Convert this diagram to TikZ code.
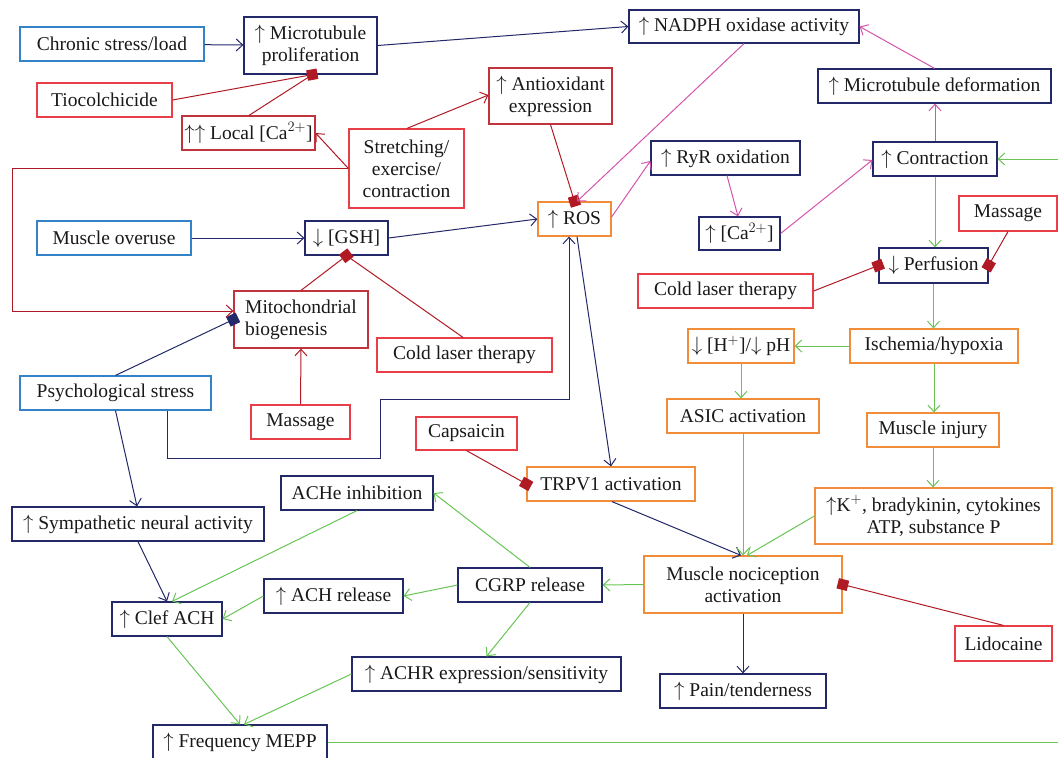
\documentclass[tikz,border=0pt]{standalone}
\usepackage{fontspec}
\setmainfont{Liberation Serif}
\usepackage{tikz}
\usetikzlibrary{arrows.meta,calc}

\definecolor{navy}{RGB}{34,40,104}
\definecolor{skyb}{RGB}{52,130,200}
\definecolor{redb}{RGB}{232,62,72}
\definecolor{dredb}{RGB}{192,52,62}
\definecolor{inhib}{RGB}{176,26,36}
\definecolor{orab}{RGB}{240,140,58}
\definecolor{grn}{RGB}{104,196,84}
\definecolor{mag}{RGB}{212,84,172}

\begin{document}
\begin{tikzpicture}[
  x=1pt,y=-1pt,
  box/.style={draw,line width=1.2pt,inner sep=0pt,minimum height=34pt,align=center,
    font=\fontsize{19.5}{22}\selectfont,text=black!90},
  src/.style={box,draw=skyb},
  trt/.style={box,draw=redb},
  drd/.style={box,draw=dredb},
  mid/.style={box,draw=navy},
  ora/.style={box,draw=orab},
  arr/.style={line width=1pt,-{Straight Barb[length=6.5pt,width=12pt]}},
  blk/.style={line width=1pt,-{Square[length=10.5pt]},shorten >=-5pt}
]
  \useasboundingbox (0,0) rectangle (1058,758);

  % left column
  \node[src,minimum width=184pt] (chronic) at (112,44)     {Chronic stress/load};
  \node[mid,minimum width=133pt,minimum height=57pt] (mtprol) at (310.5,45.5) {$\uparrow$ Microtubule\\proliferation};
  \node[trt,minimum width=135pt] (tioc)    at (104.5,100)  {Tiocolchicide};
  \node[drd,minimum width=133pt] (localca) at (248.5,133)  {$\uparrow\uparrow$ Local [Ca$^{2+}$]};
  \node[trt,minimum width=115pt,minimum height=79pt] (stretch) at (406.5,168.5) {Stretching/\\exercise/\\contraction};
  \node[src,minimum width=154pt] (overuse) at (114,238)    {Muscle overuse};
  \node[mid,minimum width=83pt]  (gsh)     at (346.5,238)  {$\downarrow$ [GSH]};
  \node[drd,minimum width=134pt,minimum height=57pt,align=left] (mito) at (301,319.5) {Mitochondrial\\biogenesis};
  \node[trt,minimum width=175pt] (coldM)   at (464.5,355)  {Cold laser therapy};
  \node[src,minimum width=191pt] (psych)   at (115.5,393)  {Psychological stress};
  \node[trt,minimum width=99pt]  (massM)   at (300.5,422)  {Massage};

  % middle / top
  \node[drd,minimum width=123pt,minimum height=56pt] (antiox) at (550.5,96) {$\uparrow$ Antioxidant\\expression};
  \node[ora,minimum width=73pt]  (ros)     at (574.5,219)  {$\uparrow$ ROS};
  \node[mid,minimum width=230pt,minimum height=33pt] (nadph) at (744,26.5) {$\uparrow$ NADPH oxidase activity};
  \node[mid,minimum width=233pt] (mtdef)   at (934.5,86)   {$\uparrow$ Microtubule deformation};
  \node[mid,minimum width=149pt] (ryr)     at (725.5,158)  {$\uparrow$ RyR oxidation};
  \node[mid,minimum width=81pt,minimum height=33pt] (ca) at (739.5,233.5) {$\uparrow$ [Ca$^{2+}$]};
  \node[mid,minimum width=124pt] (contr)   at (935,159)    {$\uparrow$ Contraction};
  \node[trt,minimum width=98pt,minimum height=35pt] (massR) at (1008,213.5) {Massage};
  \node[mid,minimum width=109pt,minimum height=35pt] (perf)  at (933.5,265.5) {$\downarrow$ Perfusion};
  \node[trt,minimum width=175pt] (coldR)   at (725.5,291)  {Cold laser therapy};

  % right column
  \node[ora,minimum width=106pt] (hph)     at (741,346)    {$\downarrow$ [H$^{+}$]/$\downarrow$ pH};
  \node[ora,minimum width=168pt] (isch)    at (934,346)    {Ischemia/hypoxia};
  \node[ora,minimum width=152pt] (asic)    at (743,416)    {ASIC activation};
  \node[ora,minimum width=132pt] (injury)  at (933,430)    {Muscle injury};
  \node[ora,minimum width=237pt,minimum height=56pt] (kplus) at (933.5,516) {$\uparrow$K$^{+}$, bradykinin, cytokines\\ATP, substance P};
  \node[ora,minimum width=198pt,minimum height=57pt] (noci)  at (743,584.5) {Muscle nociception\\activation};
  \node[trt,minimum width=97pt,minimum height=35pt]  (lido)  at (1003.5,643.5) {Lidocaine};
  \node[mid,minimum width=166pt] (pain)    at (743,691)    {$\uparrow$ Pain/tenderness};

  % bottom left
  \node[trt,minimum width=101pt,minimum height=33pt] (caps) at (466.5,433.5) {Capsaicin};
  \node[ora,minimum width=168pt] (trpv)    at (611,484)    {TRPV1 activation};
  \node[mid,minimum width=152pt] (ache)    at (357,493)    {ACHe inhibition};
  \node[mid,minimum width=252pt] (symp)    at (138,524)    {$\uparrow$ Sympathetic neural activity};
  \node[mid,minimum width=144pt] (cgrp)    at (530,585)    {CGRP release};
  \node[mid,minimum width=139pt] (achrel)  at (333.5,596)  {$\uparrow$ ACH release};
  \node[mid,minimum width=110pt] (clef)    at (167,619)    {$\uparrow$ Clef ACH};
  \node[mid,minimum width=269pt] (achr)    at (486.5,674)  {$\uparrow$ ACHR expression/sensitivity};
  \node[mid,minimum width=174pt] (mepp)    at (240,742)    {$\uparrow$ Frequency MEPP};

  \coordinate (bendA) at (12,168.5);
  \coordinate (psA)   at (380,458);
  \coordinate (psB)   at (569,399);
  \coordinate (edgeC) at (1058,159);
  \coordinate (edgeM) at (1058,742);

  % navy links
  \draw[arr,navy] (chronic) -- (mtprol);
  \draw[arr,navy] (mtprol.east) -- (nadph.west);
  \draw[arr,navy] (overuse.east) -- (gsh.west);
  \draw[arr,navy] (gsh.east) -- (ros.west);
  \draw[arr,navy] ([xshift=2.5pt]ros.south) -- (trpv.north);
  \draw[arr,navy] ([xshift=51.5pt]psych.south) |- (psA) |- (psB) -- ([xshift=-5.5pt]ros.south);
  \draw[blk,navy] (psych.north) -- (mito.west);
  \draw[arr,navy] (psych.south) -- ([xshift=-1pt]symp.north);
  \draw[arr,navy] (symp.south) -- (clef.north);
  \draw[arr,navy] ([xshift=1pt]trpv.south) -- ([xshift=-2pt]noci.north);
  \draw[arr,navy] (noci.south) -- (pain.north);

  % red links
  \draw[blk,inhib] (tioc.east) -- ([xshift=2pt]mtprol.south);
  \draw[line width=1pt,inhib] ([xshift=0.5pt]localca.north) -- ([xshift=2pt]mtprol.south);
  \draw[arr,inhib] (stretch.west) -- (localca.east);
  \draw[arr,inhib] (stretch.west) -- (bendA) |- ([yshift=8.5pt]mito.west);
  \draw[arr,inhib] ([xshift=0.5pt]stretch.north) -- ([yshift=1pt]antiox.west);
  \draw[blk,inhib] (antiox.south) -- (ros.north);
  \draw[arr,inhib] (massM.north) -- (mito.south);
  \draw[blk,inhib] (mito.north) -- (gsh.south);
  \draw[line width=1pt,inhib] ([xshift=-1.5pt]coldM.north) -- (gsh.south);
  \draw[blk,inhib] (massR.south) -- (perf.east);
  \draw[blk,inhib] (coldR.east) -- (perf.west);
  \draw[blk,inhib] (caps.south) -- (trpv.west);
  \draw[blk,inhib] (lido.north) -- (noci.east);

  % magenta links
  \draw[arr,mag] (nadph.south) -- ([xshift=2.5pt]ros.north);
  \draw[arr,mag] ([yshift=2pt]ros.east) -- ([yshift=-3pt]ryr.west);
  \draw[arr,mag] ([xshift=1.5pt]ryr.south) -- ([xshift=-1.5pt]ca.north);
  \draw[arr,mag] (ca.east) -- ([yshift=-1pt]contr.west);
  \draw[arr,mag] (contr.north) -- (contr.north |- mtdef.south);
  \draw[arr,mag] (mtdef.north) -- (nadph.east);

  % green links
  \draw[arr,grn] (edgeC) -- (contr.east);
  \draw[arr,grn] (contr.south) -- (contr.south |- perf.north);
  \draw[arr,grn] (perf.south) -- (perf.south |- isch.north);
  \draw[arr,grn] (isch.west) -- (hph.east);
  \draw[arr,grn] (hph.south) -- (hph.south |- asic.north);
  \draw[arr,grn] (isch.south) -- (isch.south |- injury.north);
  \draw[arr,grn] (injury.south) -- (injury.south |- kplus.north);
  \draw[arr,grn] (kplus.west) -- ([xshift=4pt]noci.north);
  \draw[arr,grn] (asic.south) -- (noci.north);
  \draw[arr,grn] (noci.west) -- (cgrp.east);
  \draw[arr,grn] (cgrp.north) -- (ache.east);
  \draw[arr,grn] (cgrp.west) -- (achrel.east);
  \draw[arr,grn] (cgrp.south) -- (achr.north);
  \draw[arr,grn] (ache.south) -- ([xshift=5pt]clef.north);
  \draw[arr,grn] (achrel.west) -- (clef.east);
  \draw[arr,grn] (clef.south) -- (mepp.north);
  \draw[arr,grn] (achr.west) -- ([xshift=4pt]mepp.north);
  \draw[line width=1pt,grn] (mepp.east) -- (edgeM);
\end{tikzpicture}
\end{document}
